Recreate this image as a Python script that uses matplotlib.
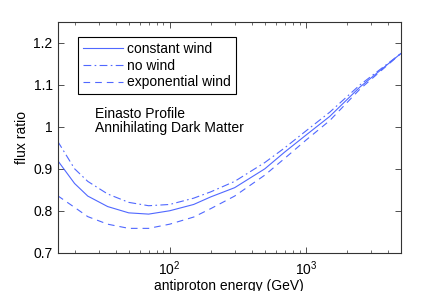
import numpy as np
import matplotlib
matplotlib.use('Agg')
import matplotlib.pyplot as plt

# values
energy = [15, 20, 25, 35, 50, 70, 100, 150, 200, 300, 500, 700, 1000, 1500, 2500, 5000]
constant_wind = [0.92, 0.865, 0.835, 0.81, 0.795, 0.792, 0.80, 0.815, 0.833, 0.855,
                 0.90, 0.94, 0.98, 1.025, 1.095, 1.175]
no_wind = [0.966, 0.9, 0.87, 0.84, 0.82, 0.812, 0.815, 0.83, 0.845, 0.87,
           0.915, 0.95, 0.99, 1.035, 1.10, 1.175]
exp_wind = [0.836, 0.808, 0.786, 0.768, 0.758, 0.758, 0.768, 0.785, 0.805, 0.835,
            0.885, 0.925, 0.968, 1.015, 1.09, 1.175]
labels = ['constant wind', 'no wind', 'exponential wind']
yticks = [0.7, 0.8, 0.9, 1.0, 1.1, 1.2]
yticklabels = ['0.7', '0.8', '0.9', '1', '1.1', '1.2']

plt.rcParams['font.family'] = ['Liberation Sans', 'DejaVu Sans']
plt.rcParams['font.size'] = 10

col = '#5068ff'
fig = plt.figure(figsize=(4.43, 2.91), dpi=100)
ax = fig.add_axes([0.130, 0.1316, 0.775, 0.7928])

ax.plot(energy, constant_wind, color=col, lw=0.8, ls='-', label=labels[0])
ax.plot(energy, no_wind, color=col, lw=0.8, ls=(0, (7, 3, 1.5, 3)), label=labels[1])
ax.plot(energy, exp_wind, color=col, lw=0.8, ls=(0, (6, 4.5)), label=labels[2])

ax.set_xscale('log')
ax.set_xlim(15, 5000)
ax.set_ylim(0.7, 1.25)
ax.set_yticks(yticks)
ax.set_yticklabels(yticklabels)
ax.tick_params(which='both', direction='in', top=True, right=True, colors='#333333',
               labelcolor='black')
ax.tick_params(which='major', length=4, width=0.6)
ax.tick_params(which='minor', length=2, width=0.5)
ax.tick_params(axis='x', which='major', pad=5)
for s in ax.spines.values():
    s.set_color('#333333')
    s.set_linewidth(0.8)

ax.set_xlabel('antiproton energy (GeV)')
ax.xaxis.set_label_coords(0.5, -0.112)
ax.set_ylabel('flux ratio', labelpad=3)

leg = ax.legend(loc='upper left', bbox_to_anchor=(0.059, 0.935), borderaxespad=0,
                fancybox=False, edgecolor='black', framealpha=1, handlelength=2.9,
                handletextpad=0.3, labelspacing=0.2, borderpad=0.35)
leg.get_frame().set_linewidth(0.8)

ax.text(0.109, 0.569, 'Einasto Profile\nAnnihilating Dark Matter', transform=ax.transAxes,
        va='center', ha='left', linespacing=1.0)

fig.savefig('out.png', dpi=100)
